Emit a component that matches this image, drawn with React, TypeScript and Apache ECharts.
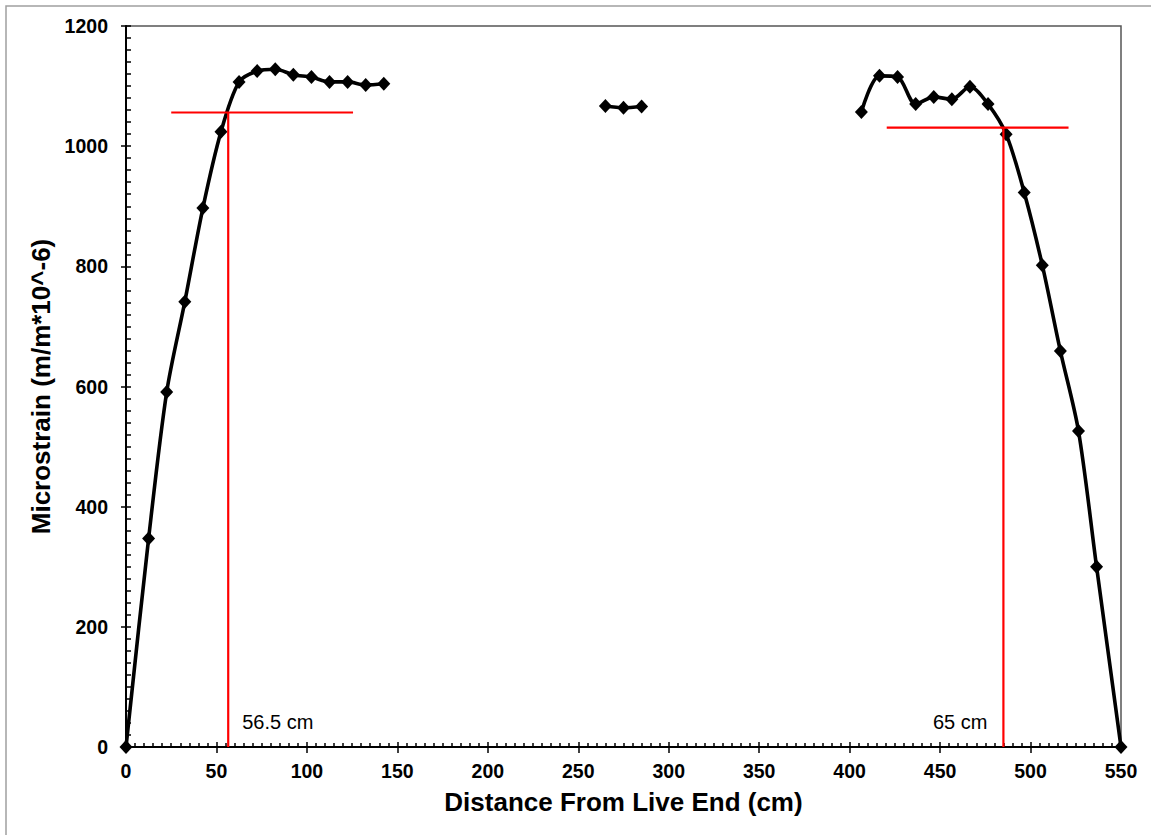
import React, { useEffect, useRef } from "react";
import * as echarts from "echarts";

// Measured strain data (distance cm, microstrain)
const liveX = [0, 12.5, 22.5, 32.5, 42.5, 52.5, 62.5, 72.5, 82.5, 92.5, 102.5, 112.5, 122.5, 132.5, 142.5];
const liveY = [0, 347, 591, 741, 897, 1024, 1107, 1125, 1128, 1119, 1115, 1107, 1107, 1102, 1104];
const midX = [265, 275, 285];
const midY = [1067, 1064, 1066];
const deadX = [406.5, 416.5, 426.5, 436.5, 446.5, 456.5, 466.5, 476.5, 486.5, 496.5, 506.5, 516.5, 526.5, 536.5, 550];
const deadY = [1057, 1117, 1115, 1070, 1082, 1078, 1099, 1070, 1020, 923, 802, 659, 526, 300, 0];

// Transfer length construction lines
const leftPlateau = 1056;
const leftPlateauFrom = 25;
const leftPlateauTo = 125.5;
const leftTransfer = 56.5;
const rightPlateau = 1031;
const rightPlateauFrom = 420.5;
const rightPlateauTo = 521;
const rightTransfer = 485;
const annotationY = 42;
const leftLabel = "56.5 cm";
const rightLabel = "65 cm";

// Axes
const xMin = 0, xMax = 550, xStep = 50;
const yMin = 0, yMax = 1200, yStep = 200;
const xTitle = "Distance From Live End (cm)";
const yTitle = "Microstrain (m/m*10^-6)";

const zip = (xs: number[], ys: number[]) => xs.map((x, i) => [x, ys[i]]);

const FONT = "'Liberation Sans', Arial, sans-serif";

export default function App() {
  const ref = useRef<HTMLDivElement>(null);
  useEffect(() => {
    if (!ref.current) return;
    const chart = echarts.init(ref.current, undefined, { renderer: "svg" });
    const labelStyle = {
      fontFamily: FONT,
      fontWeight: "bold" as const,
      fontSize: 19.5,
      color: "#000",
      formatter: (v: number) => String(v),
    };
    const nameStyle = { fontFamily: FONT, fontWeight: "bold" as const, fontSize: 26, color: "#000" };
    const tickLine = { color: "#000", width: 1.5 };
    const annoLabel = {
      fontFamily: FONT,
      fontSize: 20,
      color: "#000",
      opacity: 1,
      textBorderWidth: 0,
    };
    const blackSeries = (data: number[][]) => ({
      type: "line",
      data,
      xAxisIndex: 0,
      yAxisIndex: 0,
      smooth: 0.3,
      symbol: "diamond",
      symbolSize: [13, 14],
      clip: false,
      lineStyle: { color: "#000", width: 3.6 },
      itemStyle: { color: "#000" },
      z: 3,
    });
    const redSeries = (data: number[][]) => ({
      type: "line",
      data,
      xAxisIndex: 0,
      yAxisIndex: 0,
      symbol: "none",
      lineStyle: { color: "#ff0000", width: 2.2 },
      z: 4,
    });
    chart.setOption({
      animation: false,
      backgroundColor: "#fff",
      graphic: [
        {
          type: "rect",
          shape: { x: 6, y: 6, width: 1170, height: 850 },
          style: { fill: "none", stroke: "#a0a0a0", lineWidth: 1.5 },
          silent: true,
        },
      ],
      grid: {
        left: 126,
        top: 26,
        right: 30,
        bottom: 88,
        show: true,
        borderColor: "#555",
        borderWidth: 1.5,
      },
      xAxis: [
        {
          type: "value",
          min: xMin,
          max: xMax,
          interval: xStep,
          position: "bottom",
          axisLine: { onZero: false, lineStyle: { color: "#000", width: 2 } },
          axisTick: { inside: false, length: 6, lineStyle: tickLine },
          axisLabel: { ...labelStyle, margin: 14 },
          splitLine: { show: false },
          name: xTitle,
          nameLocation: "middle",
          nameGap: 42,
          nameTextStyle: nameStyle,
        },
        {
          type: "value",
          min: xMin,
          max: xMax,
          interval: xStep,
          position: "bottom",
          axisLine: { show: false },
          axisTick: { inside: true, length: 5, lineStyle: tickLine },
          minorTick: { show: true, splitNumber: 10, length: 4, lineStyle: tickLine },
          axisLabel: { show: false },
          splitLine: { show: false },
        },
      ],
      yAxis: [
        {
          type: "value",
          min: yMin,
          max: yMax,
          interval: yStep,
          position: "left",
          axisLine: { onZero: false, lineStyle: { color: "#000", width: 2 } },
          axisTick: { inside: false, length: 5, lineStyle: tickLine },
          axisLabel: { ...labelStyle, margin: 18 },
          splitLine: { show: false },
          name: yTitle,
          nameLocation: "middle",
          nameGap: 63,
          nameRotate: 90,
          nameTextStyle: nameStyle,
        },
        {
          type: "value",
          min: yMin,
          max: yMax,
          interval: yStep,
          position: "left",
          axisLine: { show: false },
          axisTick: { inside: true, length: 5, lineStyle: tickLine },
          minorTick: { show: true, splitNumber: 10, length: 5, lineStyle: tickLine },
          axisLabel: { show: false },
          splitLine: { show: false },
        },
      ],
      series: [
        blackSeries(zip(liveX, liveY)),
        blackSeries(zip(midX, midY)),
        blackSeries(zip(deadX, deadY)),
        redSeries([[leftPlateauFrom, leftPlateau], [leftPlateauTo, leftPlateau]]),
        redSeries([[leftTransfer, 0], [leftTransfer, leftPlateau]]),
        redSeries([[rightPlateauFrom, rightPlateau], [rightPlateauTo, rightPlateau]]),
        redSeries([[rightTransfer, 0], [rightTransfer, rightPlateau]]),
        {
          type: "scatter",
          xAxisIndex: 0,
          yAxisIndex: 0,
          symbol: "circle",
          symbolSize: 0,
          itemStyle: { color: "#000" },
          data: [
            {
              value: [leftTransfer, annotationY],
              label: { show: true, position: "right", distance: 14, formatter: leftLabel, ...annoLabel },
            },
            {
              value: [rightTransfer, annotationY],
              label: { show: true, position: "left", distance: 16, formatter: rightLabel, ...annoLabel },
            },
          ],
          label: annoLabel,
          emphasis: { disabled: true },
          z: 5,
        },
      ],
    });
    return () => chart.dispose();
  }, []);
  return (
    <div
      ref={ref}
      style={{ position: "fixed", left: 0, top: 0, width: 1151, height: 835, background: "#fff" }}
    />
  );
}
